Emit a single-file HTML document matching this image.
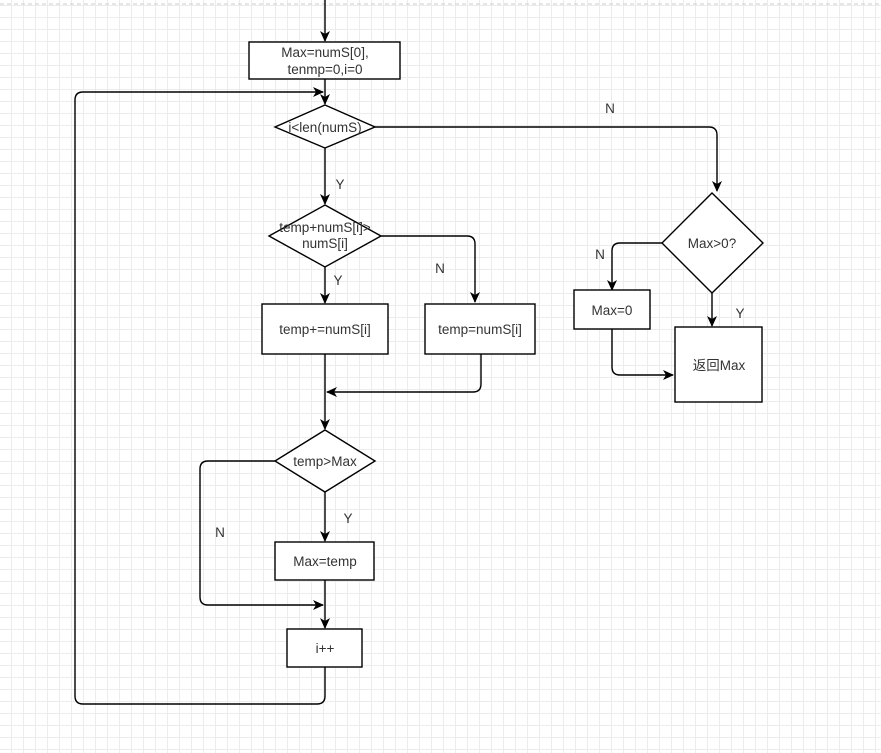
<!DOCTYPE html>
<html><head><style>
html,body{margin:0;padding:0;background:#fff}
body{width:881px;height:753px;overflow:hidden;
background-image:linear-gradient(#ececec 1px,transparent 1px),linear-gradient(90deg,#ececec 1px,transparent 1px);
background-size:12px 12px;background-position:-1px 5px}
</style></head><body>
<svg width="881" height="753" style="position:absolute;left:0;top:0" font-family="Liberation Sans, Noto Sans CJK SC, sans-serif" font-size="13.5" fill="#333">
<defs><marker id="a" markerWidth="12" markerHeight="12" refX="10" refY="6" orient="auto" markerUnits="userSpaceOnUse"><path d="M0,1 L11,6 L0,11 L3,6 Z" fill="#000"/></marker></defs>
<line x1="0" y1="4" x2="881" y2="4" stroke="#ccc" stroke-dasharray="4,3"/>
<g stroke="#000" stroke-width="1.4" fill="none">
<line x1="325" y1="0" x2="325" y2="41" marker-end="url(#a)"/>
<line x1="325" y1="79" x2="325" y2="104" marker-end="url(#a)"/>
<path d="M325,667 V696 Q325,704 317,704 H83 Q75,704 75,696 V100 Q75,92 83,92 H323" marker-end="url(#a)"/>
<path d="M375,127 H709 Q717,127 717,135 V191" marker-end="url(#a)"/>
<line x1="325" y1="148" x2="325" y2="204" marker-end="url(#a)"/>
<path d="M381,236 H467 Q475,236 475,244 V302" marker-end="url(#a)"/>
<line x1="325" y1="267" x2="325" y2="303" marker-end="url(#a)"/>
<line x1="325" y1="354" x2="325" y2="429" marker-end="url(#a)"/>
<path d="M481,354 V384 Q481,392 473,392 H327" marker-end="url(#a)"/>
<path d="M275,461 H208 Q200,461 200,469 V597 Q200,605 208,605 H323" marker-end="url(#a)"/>
<line x1="325" y1="492" x2="325" y2="541" marker-end="url(#a)"/>
<line x1="325" y1="580" x2="325" y2="628" marker-end="url(#a)"/>
<path d="M662,243 H620 Q612,243 612,251 V290" marker-end="url(#a)"/>
<line x1="712" y1="293" x2="712" y2="326" marker-end="url(#a)"/>
<path d="M612,329 V367 Q612,375 620,375 H673" marker-end="url(#a)"/>
</g>
<g stroke="#000" stroke-width="1.4" fill="#fff">
<rect x="249" y="42" width="151" height="37"/>
<polygon points="325,105 375,127 325,148 275,127"/>
<polygon points="325,205 381,236 325,267 269,236"/>
<rect x="262" y="304" width="126" height="50"/>
<rect x="425" y="304" width="110" height="50"/>
<polygon points="325,430 375,461 325,492 275,461"/>
<rect x="275" y="542" width="99" height="38"/>
<rect x="287" y="629" width="75" height="38"/>
<polygon points="712,193 763,243 712,293 662,243"/>
<rect x="574" y="290" width="76" height="39"/>
<rect x="675" y="327" width="87" height="75"/>
</g>
<g text-anchor="middle">
<text x="325" y="57">Max=numS[0],</text>
<text x="325" y="74">tenmp=0,i=0</text>
<text x="325" y="132">i&lt;len(numS)</text>
<text x="325" y="232">temp+numS[i]&gt;</text>
<text x="325" y="248">numS[i]</text>
<text x="325" y="334">temp+=numS[i]</text>
<text x="480" y="334">temp=numS[i]</text>
<text x="325" y="466">temp&gt;Max</text>
<text x="325" y="566">Max=temp</text>
<text x="325" y="653">i++</text>
<text x="712" y="248">Max&gt;0?</text>
<text x="612" y="315">Max=0</text>
<text x="719" y="370">返回Max</text>
<text x="610" y="113">N</text>
<text x="340" y="189">Y</text>
<text x="440" y="273">N</text>
<text x="338" y="285">Y</text>
<text x="348" y="523">Y</text>
<text x="220" y="537">N</text>
<text x="600" y="259">N</text>
<text x="740" y="318">Y</text>
</g>
</svg>
</body></html>
